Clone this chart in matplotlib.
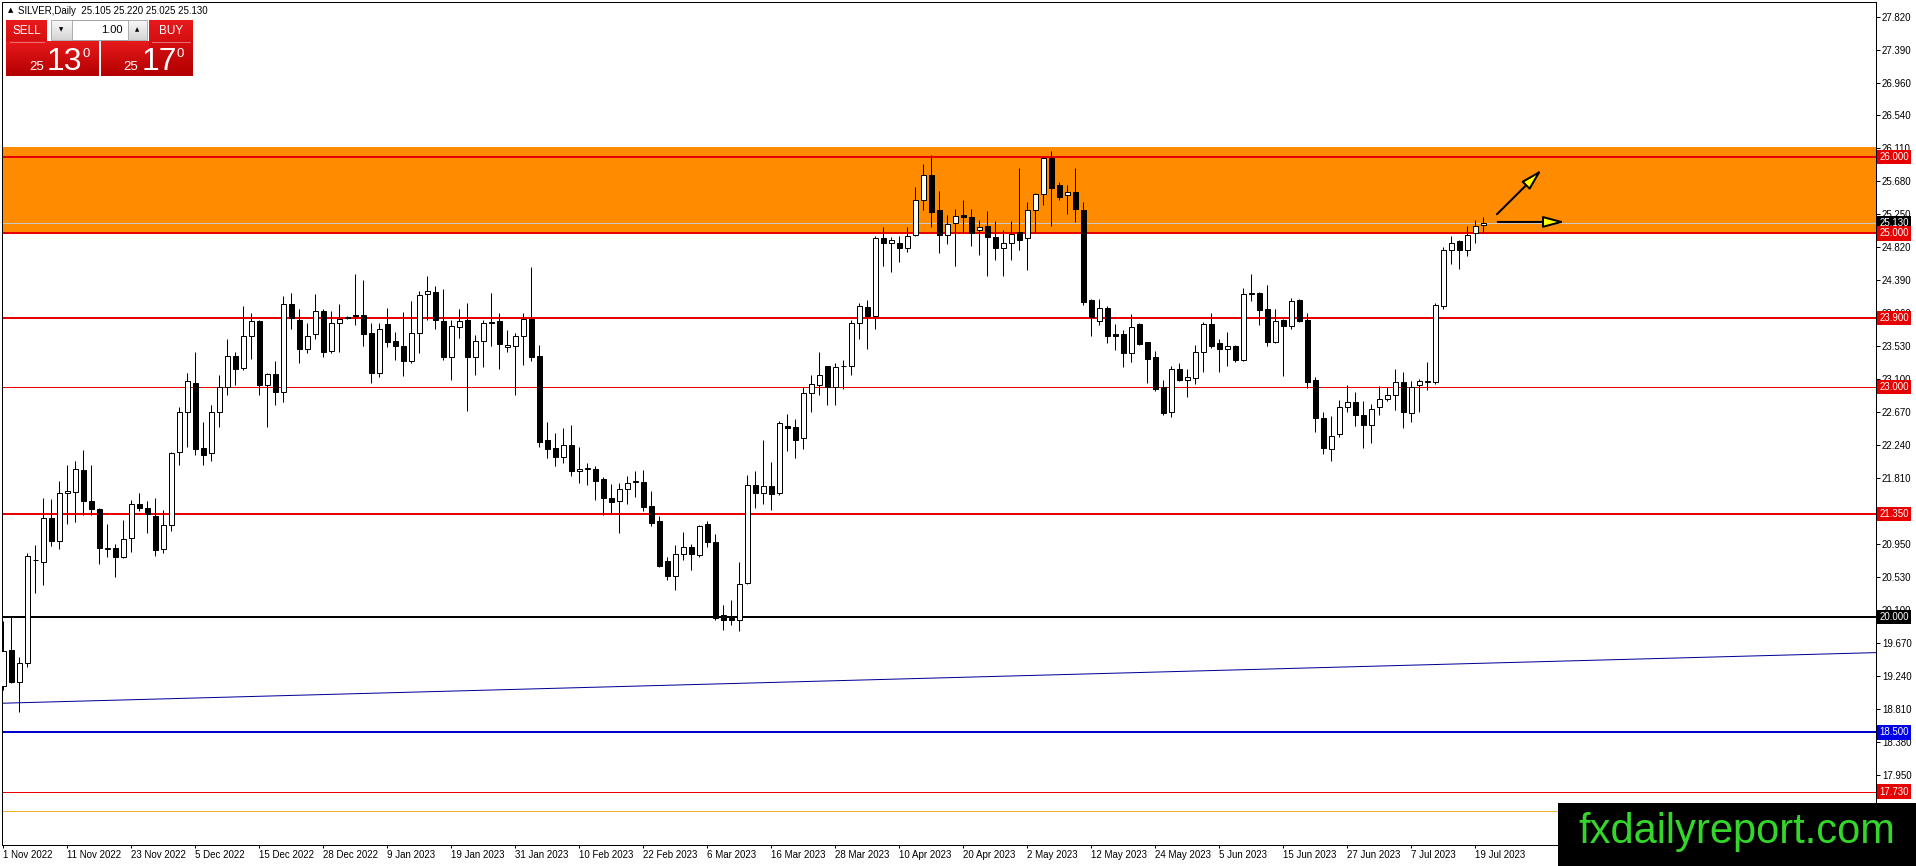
import matplotlib
matplotlib.use("Agg")
import matplotlib.pyplot as plt
import numpy as np
from matplotlib.patches import Rectangle
from matplotlib.transforms import blended_transform_factory

# daily SILVER candles, 1 Nov 2022 .. 20 Jul 2023
bar_open = [19.10, 19.57, 19.16, 19.40, 20.75, 20.72, 21.29, 20.99, 21.62, 21.63,
            21.92, 21.51, 21.41, 20.89, 20.90, 20.78, 21.03, 21.47, 21.43, 21.32,
            20.89, 21.20, 22.15, 22.68, 23.05, 22.20, 22.14, 22.68, 23.00, 23.40,
            23.25, 23.66, 23.86, 23.02, 23.17, 22.93, 24.08, 23.87, 23.50, 23.69,
            23.99, 23.47, 23.83, 23.90, 23.94, 23.94, 23.70, 23.18, 23.82, 23.60,
            23.53, 23.34, 23.70, 24.21, 24.24, 23.86, 23.39, 23.78, 23.87, 23.39,
            23.60, 23.85, 23.86, 23.52, 23.54, 23.66, 23.88, 23.40, 22.31, 22.20,
            22.09, 22.25, 21.90, 21.93, 21.93, 21.80, 21.55, 21.51, 21.67, 21.76,
            21.76, 21.45, 21.25, 20.73, 20.54, 20.83, 20.92, 20.81, 21.21, 20.98,
            20.03, 19.99, 19.97, 20.45, 21.72, 21.62, 21.71, 21.62, 22.49, 22.48,
            22.33, 22.92, 23.02, 23.27, 23.00, 23.27, 23.27, 23.84, 24.04, 23.92,
            24.94, 24.88, 24.88, 24.81, 24.98, 25.44, 25.76, 25.31, 24.98, 25.13,
            25.24, 25.21, 25.04, 25.10, 24.95, 24.81, 24.87, 25.02, 24.94, 25.31,
            25.51, 25.98, 25.63, 25.50, 25.54, 25.31, 24.13, 23.86, 24.03, 23.69,
            23.69, 23.44, 23.82, 23.58, 23.39, 23.00, 22.67, 23.24, 23.09, 23.12,
            23.45, 23.82, 23.57, 23.50, 23.54, 23.35, 24.22, 24.23, 24.02, 23.58,
            23.87, 23.80, 24.13, 23.87, 23.09, 22.59, 22.19, 22.39, 22.74, 22.80,
            22.64, 22.50, 22.74, 22.84, 22.90, 23.06, 22.66, 23.02, 23.07, 23.06,
            24.05, 24.79, 24.90, 24.78, 25.00, 25.105]
bar_high = [19.95, 20.01, 19.48, 20.84, 20.94, 21.56, 21.54, 21.77, 21.98, 22.04,
            22.18, 21.98, 21.42, 21.22, 20.95, 21.27, 21.53, 21.62, 21.51, 21.55,
            21.40, 22.15, 22.74, 23.18, 23.45, 22.55, 22.76, 23.16, 23.63, 23.46,
            24.06, 23.97, 23.87, 23.18, 23.34, 24.19, 24.23, 24.02, 23.83, 24.21,
            24.01, 23.99, 24.08, 23.92, 24.47, 24.39, 23.84, 23.84, 24.03, 23.71,
            23.98, 24.12, 24.25, 24.45, 24.31, 24.28, 23.87, 24.01, 24.09, 23.68,
            23.87, 24.22, 23.96, 23.74, 23.70, 23.97, 24.56, 23.55, 22.54, 22.40,
            22.46, 22.51, 22.22, 22.01, 21.97, 21.83, 21.74, 21.75, 21.84, 21.91,
            21.92, 21.64, 21.32, 20.79, 20.94, 21.11, 20.95, 21.20, 21.25, 21.08,
            20.16, 20.22, 20.72, 21.85, 21.91, 22.31, 22.02, 22.56, 22.65, 22.58,
            23.00, 23.15, 23.45, 23.28, 23.31, 23.35, 23.87, 24.10, 24.13, 24.97,
            25.08, 24.95, 24.97, 25.08, 25.61, 25.91, 26.02, 25.55, 25.24, 25.32,
            25.44, 25.32, 25.18, 25.29, 25.16, 25.05, 25.16, 25.85, 25.41, 25.53,
            26.00, 26.07, 25.67, 25.63, 25.85, 25.41, 24.14, 24.15, 24.06, 23.82,
            23.74, 23.95, 23.84, 23.59, 23.47, 23.09, 23.27, 23.31, 23.23, 23.55,
            23.85, 23.96, 23.63, 23.71, 23.55, 24.29, 24.47, 24.24, 24.33, 24.02,
            23.89, 24.16, 24.14, 23.97, 23.13, 22.68, 22.62, 22.83, 23.03, 22.94,
            22.82, 22.78, 23.01, 23.00, 23.23, 23.19, 23.08, 23.11, 23.33, 24.09,
            24.82, 24.97, 24.91, 25.10, 25.18, 25.22]
bar_low = [19.05, 19.14, 18.77, 19.35, 20.32, 20.42, 20.93, 20.89, 21.22, 21.24,
           21.33, 21.33, 20.70, 20.78, 20.53, 20.77, 20.85, 21.39, 21.10, 20.80,
           20.84, 21.13, 21.98, 22.22, 22.11, 21.98, 22.03, 22.48, 22.89, 23.03,
           23.22, 23.37, 22.89, 22.48, 22.77, 22.81, 23.76, 23.31, 23.44, 23.62,
           23.39, 23.44, 23.45, 23.89, 23.81, 23.53, 23.05, 23.13, 23.52, 23.35,
           23.14, 23.31, 23.44, 23.87, 23.76, 23.35, 23.09, 23.64, 22.69, 23.15,
           23.26, 23.53, 23.23, 23.46, 22.90, 23.29, 23.34, 22.22, 22.08, 21.97,
           22.01, 21.84, 21.75, 21.72, 21.53, 21.33, 21.35, 21.10, 21.48, 21.57,
           21.38, 21.19, 20.66, 20.48, 20.35, 20.75, 20.61, 20.78, 20.91, 19.96,
           19.83, 19.90, 19.82, 20.44, 21.42, 21.48, 21.40, 21.59, 22.16, 22.08,
           22.19, 22.68, 22.90, 22.77, 22.76, 22.98, 23.16, 23.63, 23.50, 23.76,
           24.57, 24.50, 24.63, 24.76, 24.97, 25.31, 25.09, 24.74, 24.86, 24.58,
           25.01, 24.84, 24.72, 24.44, 24.65, 24.45, 24.65, 24.79, 24.52, 25.02,
           25.37, 25.10, 25.44, 25.25, 25.15, 24.07, 23.67, 23.81, 23.57, 23.48,
           23.26, 23.33, 23.55, 23.05, 22.95, 22.63, 22.61, 23.08, 22.87, 23.04,
           23.20, 23.51, 23.19, 23.27, 23.32, 23.34, 24.12, 23.81, 23.53, 23.57,
           23.14, 23.76, 23.85, 22.99, 22.42, 22.13, 22.04, 22.35, 22.68, 22.49,
           22.21, 22.27, 22.64, 22.82, 22.70, 22.46, 22.55, 22.68, 22.96, 23.04,
           24.02, 24.60, 24.54, 24.70, 24.88, 25.025]
bar_close = [19.56, 19.16, 19.40, 20.80, 20.74, 21.29, 20.99, 21.62, 21.65, 21.93,
             21.51, 21.41, 20.90, 20.90, 20.78, 21.02, 21.47, 21.43, 21.34, 20.88,
             21.20, 22.14, 22.68, 23.08, 22.19, 22.12, 22.67, 23.00, 23.40, 23.24,
             23.66, 23.86, 23.02, 23.17, 22.93, 24.08, 23.90, 23.50, 23.66, 23.99,
             23.46, 23.83, 23.88, 23.91, 23.92, 23.69, 23.18, 23.75, 23.58, 23.53,
             23.34, 23.70, 24.20, 24.25, 23.87, 23.39, 23.79, 23.86, 23.39, 23.60,
             23.84, 23.83, 23.56, 23.55, 23.66, 23.88, 23.39, 22.29, 22.19, 22.09,
             22.25, 21.90, 21.93, 21.95, 21.78, 21.55, 21.50, 21.67, 21.75, 21.77,
             21.44, 21.23, 20.67, 20.54, 20.82, 20.92, 20.82, 21.19, 20.98, 19.99,
             19.97, 19.97, 20.44, 21.72, 21.62, 21.71, 21.61, 22.53, 22.47, 22.31,
             22.92, 23.04, 23.15, 23.00, 23.26, 23.28, 23.83, 24.05, 23.92, 24.94,
             24.87, 24.92, 24.81, 24.97, 25.44, 25.76, 25.28, 24.98, 25.12, 25.23,
             25.22, 25.01, 25.09, 24.95, 24.81, 24.87, 24.99, 24.92, 25.31, 25.51,
             25.98, 25.59, 25.48, 25.54, 25.32, 24.11, 23.91, 24.03, 23.67, 23.67,
             23.44, 23.78, 23.56, 23.37, 22.97, 22.66, 23.24, 23.09, 23.13, 23.45,
             23.82, 23.53, 23.50, 23.54, 23.35, 24.21, 24.21, 24.00, 23.58, 23.86,
             23.80, 24.12, 23.86, 23.07, 22.59, 22.20, 22.36, 22.74, 22.80, 22.63,
             22.50, 22.71, 22.84, 22.89, 23.06, 22.67, 23.00, 23.08, 23.08, 24.07,
             24.79, 24.87, 24.78, 24.98, 25.10, 25.13]

date_labels = ["1 Nov 2022", "11 Nov 2022", "23 Nov 2022", "5 Dec 2022", "15 Dec 2022",
               "28 Dec 2022", "9 Jan 2023", "19 Jan 2023", "31 Jan 2023", "10 Feb 2023",
               "22 Feb 2023", "6 Mar 2023", "16 Mar 2023", "28 Mar 2023", "10 Apr 2023",
               "20 Apr 2023", "2 May 2023", "12 May 2023", "24 May 2023", "5 Jun 2023",
               "15 Jun 2023", "27 Jun 2023", "7 Jul 2023", "19 Jul 2023"]
label_every = 8

price_ticks = [27.820, 27.390, 26.960, 26.540, 26.110, 25.680, 25.250, 24.820, 24.390,
               23.960, 23.530, 23.100, 22.670, 22.240, 21.810, 21.380, 20.950, 20.530,
               20.100, 19.670, 19.240, 18.810, 18.380, 17.950, 17.520]

# drawn levels
zone_low, zone_high = 25.0, 26.13
red_levels = [26.0, 25.0, 23.9, 21.35]
red_thin_levels = [23.0, 17.73]
black_level = 20.0
blue_level = 18.5
orange_level = 17.48
bid_price = 25.13
trend_pts = ([-0.4, 234.1], [18.88, 19.54])
arrow_up = ((186.7, 25.25), (192.3, 25.83))
arrow_flat = ((186.8, 25.15), (195.2, 25.15))

box_levels = [(26.0, "#e60000"), (25.13, "#000000"), (25.0, "#e60000"), (23.9, "#e60000"),
              (23.0, "#e60000"), (21.35, "#e60000"), (20.0, "#000000"), (18.5, "#0000e6"),
              (17.73, "#e60000")]

W, H = 1916, 866
PX = 0.72  # one pixel in points at dpi 100
FONT = "Liberation Sans"

fig = plt.figure(figsize=(W / 100, H / 100), dpi=100)
fig.patch.set_facecolor("white")
ax = fig.add_axes([2 / W, 21 / H, 1873.7 / W, 843 / H])
ax.set_xlim(-0.1625, 234.05)
ax.set_ylim(17.034, 28.015)

n = len(bar_open)
xs = np.arange(n)
o = np.array(bar_open)
c = np.array(bar_close)
hi = np.array(bar_high)
lo = np.array(bar_low)

# zone and levels
ax.axhspan(zone_low, zone_high, color="#ff8c00", lw=0, zorder=0.5)
for lv in red_levels:
    ax.axhline(lv, color="#e60000", lw=2 * PX, zorder=1)
for lv in red_thin_levels:
    ax.axhline(lv, color="#e60000", lw=1 * PX, zorder=1)
ax.axhline(black_level, color="black", lw=2 * PX, zorder=1)
ax.axhline(blue_level, color="#0000cc", lw=2 * PX, zorder=1)
ax.axhline(orange_level, color="#f0b030", lw=1 * PX, zorder=1)
ax.axhline(bid_price, color="#c8c8c8", lw=1 * PX, zorder=1.2)
ax.plot(trend_pts[0], trend_pts[1], color="#000099", lw=1 * PX, zorder=1)

# candles
ax.vlines(xs, lo, hi, color="black", lw=1 * PX, zorder=2)
up = c >= o
ax.bar(xs, np.abs(c - o), bottom=np.minimum(o, c), width=0.62,
       color=np.where(up, "white", "black"), edgecolor="black",
       linewidth=1 * PX, zorder=3)

# arrows
for start, end in (arrow_up, arrow_flat):
    ax.annotate("", xy=end, xytext=start,
                arrowprops=dict(arrowstyle="-|>,head_length=1.3,head_width=0.35",
                                fc="#ffff00", ec="black", lw=2 * PX,
                                shrinkA=0, shrinkB=0), zorder=4)

# axes styling
for s in ax.spines.values():
    s.set_color("black")
    s.set_linewidth(1 * PX)
ax.yaxis.tick_right()
ax.set_yticks(price_ticks)
ax.set_yticklabels([f"{v:.3f}" for v in price_ticks])
ax.set_xticks(xs[::label_every][:len(date_labels)])
ax.set_xticklabels(date_labels)
ax.tick_params(axis="y", direction="out", length=3, width=PX, pad=1.5,
               labelsize=7, labelfontfamily=FONT)
ax.tick_params(axis="x", direction="out", length=2, width=PX, pad=1.5,
               labelsize=7, labelfontfamily=FONT)
for t in ax.get_xticklabels():
    t.set_horizontalalignment("left")

# price boxes at the right axis
tr = blended_transform_factory(ax.transAxes, ax.transData)
for lv, col in box_levels:
    ax.text(1.0 + 3.5 / 1873.7, lv, f"{lv:.3f}", transform=tr, ha="left", va="center",
            fontsize=7, family=FONT, color="white", clip_on=False, zorder=10,
            bbox=dict(boxstyle="square,pad=0.22", fc=col, ec="none"))

# overlay in pixel coordinates for the trade panel and watermark
ov = fig.add_axes([0, 0, 1, 1], zorder=20)
ov.set_xlim(0, W)
ov.set_ylim(H, 0)
ov.axis("off")
ov.patch.set_alpha(0)

ov.text(8, 10.5, "\u25b2", fontsize=5, family="DejaVu Sans", va="center", ha="left")
ov.text(18, 10.5, "SILVER,Daily  25.105 25.220 25.025 25.130", fontsize=7,
        family=FONT, va="center", ha="left")

grad = np.linspace(0, 1, 50).reshape(-1, 1)
red_cmap = matplotlib.colors.LinearSegmentedColormap.from_list("r", ["#e8191c", "#b30000"])
grey_cmap = matplotlib.colors.LinearSegmentedColormap.from_list("g", ["#fafafa", "#d4d4d4"])


def grad_box(x0, y0, x1, y1, cmap):
    ov.imshow(grad, cmap=cmap, extent=(x0, x1, y1, y0), aspect="auto", zorder=1)


grad_box(6, 20, 46.7, 76, red_cmap)
grad_box(6, 41.7, 99, 76, red_cmap)
grad_box(101, 41.7, 192.7, 76, red_cmap)
grad_box(149.3, 20, 192.7, 76, red_cmap)
ov.plot([10, 44], [41.7, 41.7], color="#f08080", lw=0.6, zorder=2)
ov.plot([152, 190], [41.7, 41.7], color="#f08080", lw=0.6, zorder=2)
grad_box(50.7, 20, 71.7, 40, grey_cmap)
grad_box(128.3, 20, 146.7, 40, grey_cmap)
ov.add_patch(Rectangle((71.7, 20), 56.6, 20, fc="white", ec="#a0a0a0", lw=0.6, zorder=2))
ov.add_patch(Rectangle((50.7, 20), 96, 20, fc="none", ec="#a0a0a0", lw=0.6, zorder=2))
ov.set_xlim(0, W)
ov.set_ylim(H, 0)

ov.text(26.5, 31, "SELL", color="white", fontsize=8.5, family=FONT, ha="center", va="center", zorder=3)
ov.text(171, 31, "BUY", color="white", fontsize=8.5, family=FONT, ha="center", va="center", zorder=3)
ov.text(123, 30, "1.00", color="black", fontsize=8, family=FONT, ha="right", va="center", zorder=3)
ov.text(61, 30, "\u25bc", color="black", fontsize=4, family="DejaVu Sans", ha="center", va="center", zorder=3)
ov.text(137.5, 30, "\u25b2", color="black", fontsize=4, family="DejaVu Sans", ha="center", va="center", zorder=3)
for x25, x_big, x_sup, big in ((29, 48, 83, "13"), (123, 143, 177, "17")):
    ov.text(x25, 70, "25", color="white", fontsize=9.5, family=FONT, ha="left", va="baseline", zorder=3)
    ov.text(x_big - 1.5, 70, big, color="white", fontsize=23, family=FONT, ha="left", va="baseline", zorder=3)
    ov.text(x_sup, 57, "0", color="white", fontsize=9.5, family=FONT, ha="left", va="baseline", zorder=3)

# watermark
ov.add_patch(Rectangle((1558, 803), W - 1558, H - 803, fc="black", ec="none", zorder=5))
ov.text(1737, 843, "fxdailyreport.com", color="#35d62b", fontsize=30, family=FONT,
        ha="center", va="baseline", zorder=6)

fig.savefig("out.png", dpi=100)
